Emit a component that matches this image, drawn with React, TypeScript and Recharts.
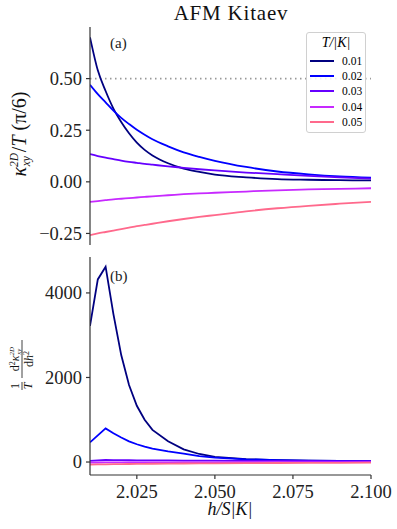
import React from 'react'
import {
  LineChart,
  Line,
  XAxis,
  YAxis,
  ReferenceLine,
} from 'recharts'

// field values h/S|K|
const hValues = [
  2.01, 2.0125, 2.015, 2.0175, 2.02, 2.0225, 2.025, 2.0275, 2.03, 2.035, 2.04,
  2.045, 2.05, 2.06, 2.07, 2.08, 2.09, 2.1,
]

const temperatures = ['0.01', '0.02', '0.03', '0.04', '0.05']
const seriesColors = ['#000080', '#0000ff', '#6600ff', '#c729ff', '#ff698c']

// panel (a): kappa_xy^2D / T in units of pi/6
const kappaT001 = [0.70, 0.54, 0.44, 0.355, 0.29, 0.235, 0.19, 0.155, 0.128, 0.09, 0.064, 0.048, 0.035, 0.022, 0.013, 0.01, 0.008, 0.007]
const kappaT002 = [0.47, 0.425, 0.385, 0.345, 0.31, 0.28, 0.252, 0.228, 0.206, 0.172, 0.143, 0.121, 0.102, 0.072, 0.05, 0.036, 0.026, 0.02]
const kappaT003 = [0.134, 0.125, 0.117, 0.11, 0.103, 0.097, 0.092, 0.087, 0.083, 0.075, 0.068, 0.061, 0.055, 0.045, 0.037, 0.029, 0.022, 0.016]
const kappaT004 = [-0.097, -0.093, -0.089, -0.085, -0.082, -0.079, -0.076, -0.073, -0.07, -0.065, -0.06, -0.056, -0.053, -0.047, -0.041, -0.037, -0.034, -0.031]
const kappaT005 = [-0.258, -0.25, -0.243, -0.236, -0.229, -0.222, -0.215, -0.209, -0.203, -0.191, -0.18, -0.17, -0.161, -0.143, -0.128, -0.116, -0.106, -0.097]

// panel (b): (1/T) d^2 kappa / dh^2
const curvT001 = [3220, 4320, 4620, 3500, 2530, 1820, 1330, 1000, 760, 490, 300, 190, 120, 70, 45, 32, 25, 20]
const curvT002 = [465, 630, 795, 680, 580, 490, 420, 365, 315, 250, 200, 140, 105, 65, 45, 32, 25, 20]
const curvT003 = [28, 38, 48, 46, 44, 42, 41, 40, 39, 37, 35, 33, 31, 28, 26, 24, 22, 20]
const curvT004 = [-12, -11, -10, -10, -9, -9, -8, -8, -8, -7, -7, -6, -6, -5, -4, -4, -3, -3]
const curvT005 = [-62, -58, -55, -52, -49, -47, -45, -43, -41, -38, -35, -32, -30, -26, -23, -20, -18, -16]

const topSeries = [kappaT001, kappaT002, kappaT003, kappaT004, kappaT005]
const bottomSeries = [curvT001, curvT002, curvT003, curvT004, curvT005]

const topData = hValues.map((h, i) => {
  const row: Record<string, number> = { h }
  topSeries.forEach((s, k) => (row['s' + k] = s[i]))
  return row
})
const bottomData = hValues.map((h, i) => {
  const row: Record<string, number> = { h }
  bottomSeries.forEach((s, k) => (row['s' + k] = s[i]))
  return row
})

const xTicks = [2.025, 2.05, 2.075, 2.1]
const topYTicks = [-0.25, 0, 0.25, 0.5]
const bottomYTicks = [0, 2000, 4000]

const serif = 'Liberation Serif, serif'
const frame = '#333'

const fmtTop = (v: number) => (v < 0 ? '\u2212' : '') + Math.abs(v).toFixed(2)

function YTick(props: any) {
  const { x, y, payload, fmt } = props
  return (
    <text x={x} y={y} dy="0.35em" textAnchor="end" fontFamily={serif} fontSize={18.5} fill="#222">
      {fmt ? fmt(payload.value) : payload.value}
    </text>
  )
}

function XTick(props: any) {
  const { x, y, payload } = props
  return (
    <text x={x} y={y} dy="0.75em" textAnchor="middle" fontFamily={serif} fontSize={18.5} fill="#222">
      {payload.value.toFixed(3)}
    </text>
  )
}

export default function App() {
  return (
    <div style={{ position: 'absolute', left: 0, top: 0, width: 397, height: 529, background: '#fff', fontFamily: serif }}>
      <div style={{ position: 'absolute', left: 0, top: 0 }}>
        <LineChart width={397} height={260} data={topData} margin={{ top: 27, right: 26, bottom: 15, left: 30 }}>
          <XAxis
            dataKey="h"
            type="number"
            domain={[2.01, 2.1]}
            ticks={xTicks}
            allowDataOverflow
            height={0}
            tick={false}
            tickSize={4}
            stroke={frame}
            strokeWidth={1.2}
          />
          <XAxis xAxisId="top" orientation="top" dataKey="h" type="number" domain={[2.01, 2.1]} height={0} tick={false} tickLine={false} stroke={frame} strokeWidth={1.2} />
          <YAxis
            type="number"
            domain={[-0.306, 0.75]}
            ticks={topYTicks}
            allowDataOverflow
            width={60}
            tickSize={4}
            tickMargin={4}
            tick={<YTick fmt={fmtTop} />}
            stroke={frame}
            strokeWidth={1.2}
          />
          <YAxis yAxisId="right" orientation="right" domain={[-0.306, 0.75]} width={0} tick={false} tickLine={false} stroke={frame} strokeWidth={1.2} />
          <ReferenceLine y={0.5} stroke="#999" strokeWidth={1.6} strokeDasharray="1.5 3.5" />
          {temperatures.map((t, k) => (
            <Line
              key={t}
              type="monotone"
              dataKey={'s' + k}
              name={t}
              stroke={seriesColors[k]}
              strokeWidth={1.8}
              dot={false}
              isAnimationActive={false}
            />
          ))}
        </LineChart>
      </div>

      <div style={{ position: 'absolute', left: 0, top: 250 }}>
        <LineChart width={397} height={279} data={bottomData} margin={{ top: 7, right: 26, bottom: 30, left: 30 }}>
          <XAxis
            dataKey="h"
            type="number"
            domain={[2.01, 2.1]}
            ticks={xTicks}
            allowDataOverflow
            height={24}
            tickSize={4}
            tickMargin={5}
            tick={<XTick />}
            stroke={frame}
            strokeWidth={1.2}
          />
          <XAxis xAxisId="top" orientation="top" dataKey="h" type="number" domain={[2.01, 2.1]} height={0} tick={false} tickLine={false} stroke={frame} strokeWidth={1.2} />
          <YAxis
            type="number"
            domain={[-307, 4850]}
            ticks={bottomYTicks}
            allowDataOverflow
            width={60}
            tickSize={4}
            tickMargin={4}
            tick={<YTick />}
            stroke={frame}
            strokeWidth={1.2}
          />
          <YAxis yAxisId="right" orientation="right" domain={[-307, 4850]} width={0} tick={false} tickLine={false} stroke={frame} strokeWidth={1.2} />
          {temperatures.map((t, k) => (
            <Line
              key={t}
              type="linear"
              dataKey={'s' + k}
              name={t}
              stroke={seriesColors[k]}
              strokeWidth={1.8}
              dot={false}
              isAnimationActive={false}
            />
          ))}
        </LineChart>
      </div>

      {/* legend */}
      <div
        style={{
          position: 'absolute',
          left: 306,
          top: 32,
          width: 58,
          height: 99,
          border: '1px solid #d0d0d0',
          borderRadius: 3,
          background: 'rgba(255,255,255,0.85)',
          fontFamily: serif,
        }}
      >
        <div style={{ textAlign: 'center', fontSize: 14, fontStyle: 'italic', marginTop: 2, height: 18 }}>
          T/|K|
        </div>
        {temperatures.map((t, k) => (
          <div key={t} style={{ display: 'flex', alignItems: 'center', height: 15.3, fontSize: 11.5 }}>
            <div style={{ width: 24, height: 2, background: seriesColors[k], marginLeft: 3, marginRight: 8 }} />
            <span>{t}</span>
          </div>
        ))}
      </div>

      {/* titles and axis labels */}
      <svg width={397} height={529} style={{ position: 'absolute', left: 0, top: 0, pointerEvents: 'none', fontFamily: serif }}>
        <text x={231} y={20} textAnchor="middle" fontSize={21} letterSpacing={0.8} fill="#111">
          AFM Kitaev
        </text>
        <text x={110} y={48} fontSize={15} fill="#222">(a)</text>
        <text x={110} y={281} fontSize={15} fill="#222">(b)</text>

        <g transform="translate(26,134) rotate(-90)" fill="#111">
          <text x={0} y={0} textAnchor="middle" fontSize={20}>
            <tspan fontStyle="italic">κ</tspan>
            <tspan fontSize={11.5} fontStyle="italic" dy={-8}>2D</tspan>
            <tspan fontSize={11.5} fontStyle="italic" dx={-13.5} dy={12}>xy</tspan>
            <tspan dx={4} dy={-4}>/</tspan>
            <tspan fontStyle="italic">T</tspan>
            <tspan> (π/6)</tspan>
          </text>
        </g>

        <g transform="translate(22,365) rotate(-90)" fill="#111">
          <text x={-21} y={-3} textAnchor="middle" fontSize={12}>1</text>
          <line x1={-25} x2={-17} y1={0} y2={0} stroke="#111" strokeWidth={0.8} />
          <text x={-21} y={10} textAnchor="middle" fontSize={12} fontStyle="italic">T</text>
          <text x={6} y={-3} textAnchor="middle" fontSize={12}>
            <tspan>d</tspan>
            <tspan fontSize={8} dy={-4}>2</tspan>
            <tspan fontStyle="italic" dy={4}>κ</tspan>
            <tspan fontSize={7} fontStyle="italic" dy={-5}>2D</tspan>
            <tspan fontSize={7} fontStyle="italic" dx={-8} dy={7}>xy</tspan>
          </text>
          <line x1={-13} x2={25} y1={0} y2={0} stroke="#111" strokeWidth={0.8} />
          <text x={6} y={11} textAnchor="middle" fontSize={12}>
            <tspan>d</tspan>
            <tspan fontStyle="italic">h</tspan>
            <tspan fontSize={8} dy={-4}>2</tspan>
          </text>
        </g>

        <text x={230} y={515} textAnchor="middle" fontSize={18} fontStyle="italic" fill="#111">
          h/S|K|
        </text>
      </svg>
    </div>
  )
}
